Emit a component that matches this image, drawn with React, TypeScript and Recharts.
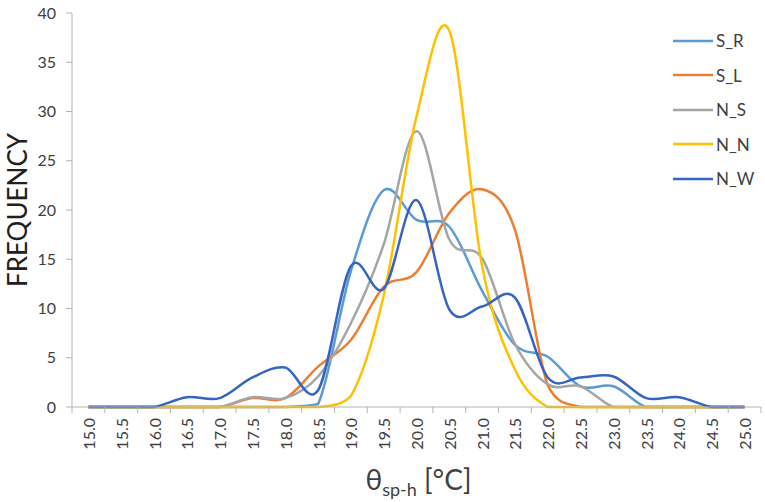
import { LineChart, Line, XAxis, YAxis, Legend } from 'recharts';

// temperature classes on the x axis
const temps = [
  '15.0', '15.5', '16.0', '16.5', '17.0', '17.5', '18.0', '18.5', '19.0', '19.5', '20.0',
  '20.5', '21.0', '21.5', '22.0', '22.5', '23.0', '23.5', '24.0', '24.5', '25.0',
];

// frequencies per series
const sR = [0, 0, 0, 0, 0, 0, 0, 0.3, 13.8, 22, 19, 18.3, 11.8, 6.3, 5.1, 2.1, 2.1, 0, 0, 0, 0];
const sL = [0, 0, 0, 0, 0, 0.9, 0.9, 4.1, 6.8, 12.2, 13.7, 19.7, 22.1, 18, 2.2, 0, 0, 0, 0, 0, 0];
const nS = [0, 0, 0, 0, 0, 1, 0.9, 3.1, 8.5, 16.5, 28, 17, 15.1, 6.4, 2.3, 2.1, 0, 0, 0, 0, 0];
const nN = [0, 0, 0, 0, 0, 0, 0, 0, 1.1, 11.3, 29.5, 38.2, 14.3, 3.8, 0, 0, 0, 0, 0, 0, 0];
const nW = [0, 0, 0, 1, 0.9, 3, 4, 1.7, 14.3, 12, 21, 9.9, 10.2, 11.1, 3, 3, 3.1, 0.9, 1, 0, 0];

const yTicks = [0, 5, 10, 15, 20, 25, 30, 35, 40];

const seriesList = [
  { key: 'S_R', values: sR, color: '#5B9BD5' },
  { key: 'S_L', values: sL, color: '#ED7D31' },
  { key: 'N_S', values: nS, color: '#A5A5A5' },
  { key: 'N_N', values: nN, color: '#FFC000' },
  { key: 'N_W', values: nW, color: '#3564C2' },
];

const data = temps.map((t, i) => {
  const row: Record<string, any> = { t };
  seriesList.forEach((s) => {
    row[s.key] = s.values[i];
  });
  return row;
});

const FONT = 'Lato, "Open Sans", sans-serif';
const AXIS_GREY = '#B4B4B4';
const TEXT = '#404040';

const WIDTH = 765;
const HEIGHT = 502;
const PLOT_LEFT = 72;
const PLOT_RIGHT = 761;
const HALF_STEP = (PLOT_RIGHT - PLOT_LEFT) / temps.length / 2;

/* Excel-like smoothing: Catmull-Rom beziers, control points kept above the baseline */
const smoothCurve = (context: any) => {
  let pts: number[][] = [];
  return {
    areaStart() {},
    areaEnd() {},
    lineStart() {
      pts = [];
    },
    point(x: number, y: number) {
      pts.push([+x, +y]);
    },
    lineEnd() {
      if (!pts.length) return;
      const floor = Math.max(...pts.map((p) => p[1]));
      context.moveTo(pts[0][0], pts[0][1]);
      for (let i = 0; i < pts.length - 1; i++) {
        const p0 = pts[Math.max(i - 1, 0)];
        const p1 = pts[i];
        const p2 = pts[i + 1];
        const p3 = pts[Math.min(i + 2, pts.length - 1)];
        const c1x = p1[0] + (p2[0] - p0[0]) / 6;
        const c1y = Math.min(p1[1] + (p2[1] - p0[1]) / 6, floor);
        const c2x = p2[0] - (p3[0] - p1[0]) / 6;
        const c2y = Math.min(p2[1] - (p3[1] - p1[1]) / 6, floor);
        context.bezierCurveTo(c1x, c1y, c2x, c2y, p2[0], p2[1]);
      }
    },
  };
};

/* category labels rotated, tick marks sit between the categories (Excel style) */
const XTick = (props: any) => {
  const { x, y, payload, index } = props;
  const axisY = y - 11;
  return (
    <g>
      <line x1={x - HALF_STEP} x2={x - HALF_STEP} y1={axisY} y2={axisY + 6} stroke={AXIS_GREY} />
      {index === temps.length - 1 && (
        <line x1={x + HALF_STEP} x2={x + HALF_STEP} y1={axisY} y2={axisY + 6} stroke={AXIS_GREY} />
      )}
      <text
        x={x}
        y={y}
        transform={`rotate(-90, ${x}, ${y})`}
        textAnchor="end"
        dominantBaseline="central"
        fontFamily={FONT}
        fontSize={16}
        fill={TEXT}
      >
        {payload.value}
      </text>
    </g>
  );
};

const XTitle = (props: any) => {
  const { viewBox } = props;
  const cx = viewBox.x + viewBox.width / 2 + 2;
  return (
    <text x={cx} y={viewBox.y + 83} textAnchor="middle" fontFamily={FONT} fontSize={28} fill={TEXT}>
      θ
      <tspan fontSize={18} dy={6}>sp-h</tspan>
      <tspan dy={-6}> [°C]</tspan>
    </text>
  );
};

const YTitle = (props: any) => {
  const { viewBox } = props;
  const cx = viewBox.x + 17;
  const cy = viewBox.y + viewBox.height / 2;
  return (
    <text
      x={cx}
      y={cy}
      transform={`rotate(-90, ${cx}, ${cy})`}
      textAnchor="middle"
      dominantBaseline="central"
      fontFamily={FONT}
      fontSize={26}
      fill="#202020"
    >
      FREQUENCY
    </text>
  );
};

// legend in series order (recharts sorts by name otherwise)
const LegendList = () => (
  <div>
    {seriesList.map((s) => (
      <div key={s.key} style={{ display: 'flex', alignItems: 'center', height: 34.5 }}>
        <svg width={40} height={6}>
          <line x1={0} x2={40} y1={3} y2={3} stroke={s.color} strokeWidth={2.5} />
        </svg>
        <span style={{ marginLeft: 3, fontFamily: FONT, fontSize: 17, color: TEXT }}>{s.key}</span>
      </div>
    ))}
  </div>
);

export default function App() {
  return (
    <div style={{ position: 'absolute', left: 0, top: 0, background: '#fff' }}>
      <LineChart width={WIDTH} height={HEIGHT} data={data} margin={{ top: 13, right: WIDTH - PLOT_RIGHT, bottom: 0, left: 0 }}>
        <XAxis
          dataKey="t"
          interval={0}
          height={95}
          padding={{ left: HALF_STEP, right: HALF_STEP }}
          axisLine={{ stroke: AXIS_GREY }}
          tickLine={false}
          tickSize={6}
          tickMargin={5}
          tick={<XTick />}
          label={XTitle}
        />
        <YAxis
          width={PLOT_LEFT}
          domain={[0, 40]}
          ticks={yTicks}
          interval={0}
          axisLine={{ stroke: AXIS_GREY }}
          tickLine={{ stroke: AXIS_GREY }}
          tickSize={6}
          tickMargin={10}
          tick={{ fontFamily: FONT, fontSize: 16, fill: TEXT }}
          label={YTitle}
        />
        <Legend
          layout="vertical"
          align="center"
          verticalAlign="middle"
          content={<LegendList />}
          wrapperStyle={{ left: 673, top: 23.5, width: 92 }}
        />
        {seriesList.map((s) => (
          <Line
            key={s.key}
            dataKey={s.key}
            name={s.key}
            type={smoothCurve as any}
            stroke={s.color}
            strokeWidth={2.5}
            dot={false}
            activeDot={false}
            isAnimationActive={false}
          />
        ))}
      </LineChart>
    </div>
  );
}
